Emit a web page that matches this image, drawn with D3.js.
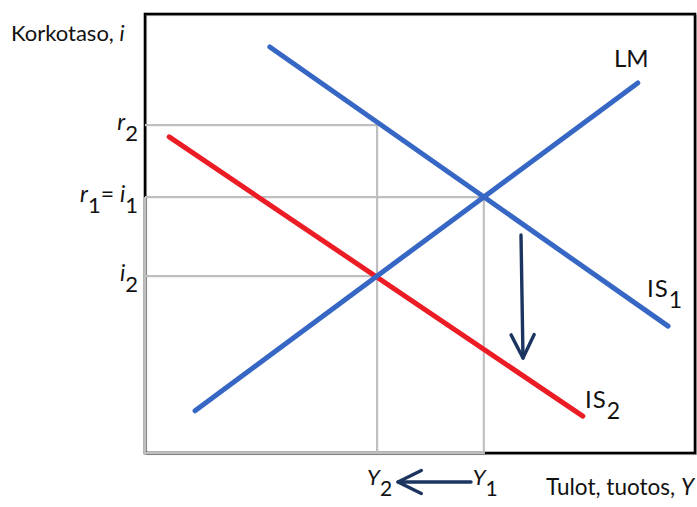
<!DOCTYPE html>
<html>
<head>
<meta charset="utf-8">
<script src="https://cdn.jsdelivr.net/npm/d3@7"></script>
<style>
  html, body { margin: 0; padding: 0; background: #fff; }
  svg { display: block; }
  text { font-family: Lato, "Open Sans", sans-serif; fill: #111; }
</style>
</head>
<body>
<svg id="chart" width="697" height="507"></svg>
<script>
// IS-LM diagram: a fall in the IS curve moves the equilibrium from (Y1, i1) to (Y2, i2)

// Curve endpoints in (output, interest) units
const curveNames = ["IS1", "IS2", "LM"];
const curveX = [[22.7, 95.1], [4.4, 79.6], [9.1, 89.6]];
const curveY = [[92.5, 28.9], [72.0, 8.4], [9.6, 84.3]];

// Guide levels
const outputLevels = { Y1: 61.6, Y2: 42.2 };
const rateLevels = { r1: 58.3, r2: 74.7, i2: 40.3 };

// Axis titles and tick labels
const yTitle = ["Korkotaso, ", "i"];
const xTitle = ["Tulot, tuotos, ", "Y"];
const rateTicks = [
  { v: 74.7, parts: [["r", "i"], ["2", "s"]] },
  { v: 58.3, parts: [["r", "i"], ["1", "s"], ["= ", "n"], ["i", "i"], ["1", "s"]] },
  { v: 40.3, parts: [["i", "i"], ["2", "s"]] }
];

const svg = d3.select("#chart");
const plot = { left: 145, right: 695, top: 14, bottom: 453 };

const x = d3.scaleLinear().domain([0, 100]).range([plot.left, plot.right]);
const y = d3.scaleLinear().domain([0, 100]).range([plot.bottom, plot.top]);

const blue = "#3767c4", red = "#ec1c24", grey = "#bfbfbf", navy = "#1b3560";

// Frame with a faint drop shadow
svg.append("rect")
  .attr("x", plot.left + 1.5).attr("y", plot.top + 1.5)
  .attr("width", plot.right - plot.left).attr("height", plot.bottom - plot.top)
  .attr("fill", "none").attr("stroke", "#bbb").attr("stroke-width", 1.2);
svg.append("rect")
  .attr("x", plot.left).attr("y", plot.top)
  .attr("width", plot.right - plot.left).attr("height", plot.bottom - plot.top)
  .attr("fill", "none").attr("stroke", "#000").attr("stroke-width", 2.6);

// Guide lines
const line = d3.line().x(d => x(d[0])).y(d => y(d[1]));
const guides = [
  [[0, rateLevels.r1], [outputLevels.Y1, rateLevels.r1], [outputLevels.Y1, 0], [0, 0], [0, rateLevels.r1]],
  [[0, rateLevels.r2], [outputLevels.Y2, rateLevels.r2], [outputLevels.Y2, 0]],
  [[0, rateLevels.i2], [outputLevels.Y2, rateLevels.i2]]
];
svg.append("g").selectAll("path").data(guides).join("path")
  .attr("d", line)
  .attr("fill", "none").attr("stroke", grey).attr("stroke-width", 2.2);

// Curves
const colors = { IS1: blue, IS2: red, LM: blue };
const curves = curveNames.map((n, k) => ({ name: n, pts: [[curveX[k][0], curveY[k][0]], [curveX[k][1], curveY[k][1]]] }));
svg.append("g").selectAll("path").data(curves).join("path")
  .attr("d", d => line(d.pts))
  .attr("fill", "none")
  .attr("stroke", d => colors[d.name])
  .attr("stroke-width", 5)
  .attr("stroke-linecap", "round");

// Shift arrows
function arrow(x1, y1, x2, y2) {
  const g = svg.append("g").attr("stroke", navy).attr("stroke-width", 3.4)
    .attr("fill", "none").attr("stroke-linecap", "round").attr("stroke-linejoin", "round");
  g.append("line").attr("x1", x1).attr("y1", y1).attr("x2", x2).attr("y2", y2);
  const a = Math.atan2(y2 - y1, x2 - x1), L = 26, s = 0.46;
  g.append("path").attr("d",
    `M${x2 - L * Math.cos(a - s)},${y2 - L * Math.sin(a - s)} L${x2},${y2} L${x2 - L * Math.cos(a + s)},${y2 - L * Math.sin(a + s)}`);
}
arrow(521, 235, 523, 358);
arrow(471, 482, 398, 482);

// Text helper with italic / subscript parts
function rich(xp, yp, parts, size, anchor) {
  const t = svg.append("text").attr("x", xp).attr("y", yp)
    .attr("text-anchor", anchor || "start").style("font-size", size + "px");
  let shifted = false;
  parts.forEach(([s, kind]) => {
    const ts = t.append("tspan").text(s);
    if (kind === "i") ts.style("font-style", "italic");
    if (kind === "s") {
      ts.attr("dy", shifted ? 0 : 11).style("font-size", (size - 1) + "px");
      shifted = true;
    } else {
      if (shifted) ts.attr("dy", -11);
      shifted = false;
    }
  });
  return t;
}

rich(11, 41, [[yTitle[0], "n"], [yTitle[1], "i"]], 22);
rich(694, 495, [[xTitle[0], "n"], [xTitle[1], "i"]], 22.5, "end");

rateTicks.forEach(t => rich(138, y(t.v) + 5, t.parts, 23, "end"));

rich(x(outputLevels.Y2) - 10, 485, [["Y", "i"], ["2", "s"]], 22);
rich(x(outputLevels.Y1) - 11, 485, [["Y", "i"], ["1", "s"]], 22);

svg.append("text").attr("x", 614).attr("y", 67).style("font-size", "24px").text("LM");
rich(647, 297, [["IS", "n"], ["1", "s"]], 24).attr("letter-spacing", 1);
rich(585, 408, [["IS", "n"], ["2", "s"]], 24).attr("letter-spacing", 1);
</script>
</body>
</html>
